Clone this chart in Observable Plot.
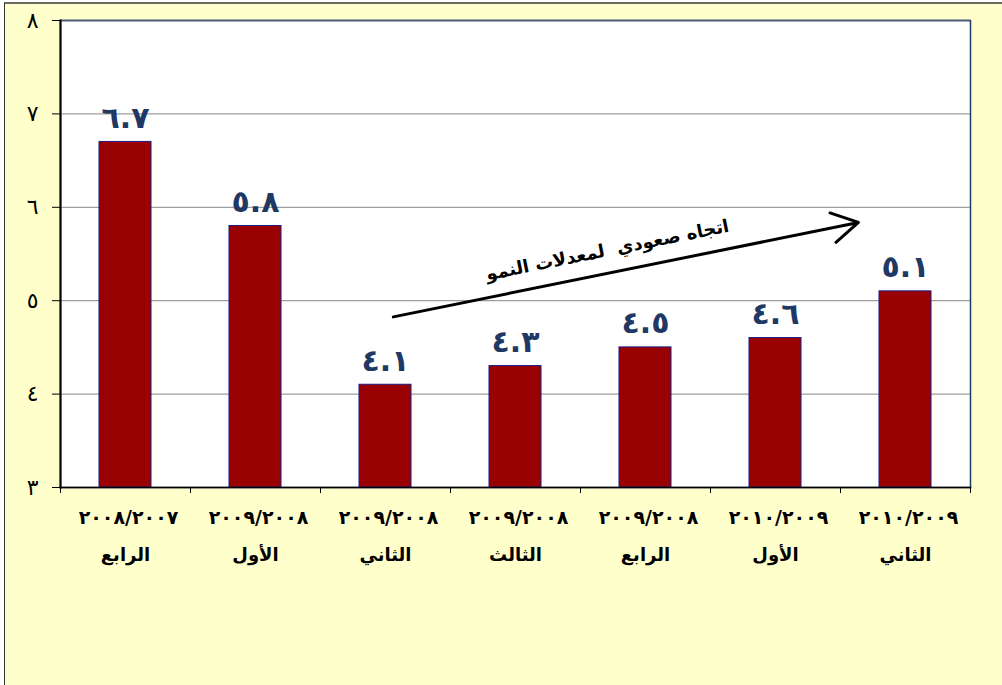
<!DOCTYPE html>
<html><head><meta charset="utf-8">
<script src="https://cdn.jsdelivr.net/npm/d3@7"></script>
<script src="https://cdn.jsdelivr.net/npm/@observablehq/plot@0.6"></script>
<style>
body{margin:0;background:#fff;}
#box{position:absolute;left:4px;top:2px;width:998px;height:683px;background:#FFFFCC;border-top:2px solid #6b6b5e;border-left:1px solid #333;box-sizing:border-box;}
#chart{position:absolute;left:-5px;top:-4px;}
</style></head><body><div id="box"><div id="chart"></div></div>
<script>
const years = ["٢٠٠٨/٢٠٠٧","٢٠٠٩/٢٠٠٨","٢٠٠٩/٢٠٠٨","٢٠٠٩/٢٠٠٨","٢٠٠٩/٢٠٠٨","٢٠١٠/٢٠٠٩","٢٠١٠/٢٠٠٩"];
const quarters = ["الرابع","الأول","الثاني","الثالث","الرابع","الأول","الثاني"];
const values = [6.7, 5.8, 4.1, 4.3, 4.5, 4.6, 5.1];
const yTicks = [3, 4, 5, 6, 7, 8];
const yTickLabels = ["٣","٤","٥","٦","٧","٨"];
const trendLabel = "اتجاه صعودي  لمعدلات النمو";
const trendStartValue = 4.81;
const trendEndValue = 5.94;
const trendLabelValue = 5.54;

const toArabic = s => String(s).replace(/[0-9]/g, d => "٠١٢٣٤٥٦٧٨٩"[+d]);
const keys = years.map((y, i) => y + " " + quarters[i]);
const data = values.map((v, i) => ({key: keys[i], year: years[i], quarter: quarters[i], value: v, label: toArabic(v.toFixed(1))}));

const W = 1002, H = 685, mL = 60, mR = 32, mT = 20, mB = 198;
const step = (W - mL - mR) / keys.length;
const plotH = H - mT - mB;
const font = "DejaVu Sans";

const svg = Plot.plot({
  width: W, height: H,
  marginLeft: mL, marginRight: mR, marginTop: mT, marginBottom: mB,
  style: {background: "transparent", fontFamily: font, overflow: "visible", color: "black"},
  x: {domain: keys, paddingInner: 0.6, paddingOuter: 0.3, axis: null},
  y: {domain: [3, 8], axis: null},
  marks: [
    Plot.frame({fill: "white", stroke: "#1f3864", strokeWidth: 1.5}),
    Plot.ruleY([4, 5, 6, 7], {stroke: "#868686", strokeWidth: 1}),
    Plot.ruleY([8], {stroke: "#4a5a78", strokeWidth: 1.5}),
    Plot.barY(data, {x: "key", y1: 3, y2: "value", fill: "#990000", stroke: "#1c1c8c", strokeWidth: 1}),
    Plot.text(data, {x: "key", y: "value", text: "label", dy: -14, lineAnchor: "bottom", fill: "#1f3864", fontSize: 30, fontWeight: "bold"}),
    Plot.axisY({ticks: yTicks, tickFormat: d => yTickLabels[yTicks.indexOf(d)], tickSize: 8, tickPadding: 14, fontSize: 22, stroke: "black"}),
    Plot.frame({anchor: "left", stroke: "black", strokeWidth: 2}),
    Plot.frame({anchor: "bottom", stroke: "black", strokeWidth: 1.5}),
    Plot.ruleX(keys, {x: d => d, dx: -step / 2, insetTop: plotH, insetBottom: -6, stroke: "black"}),
    Plot.ruleX([keys[keys.length - 1]], {x: d => d, dx: step / 2, insetTop: plotH, insetBottom: -6, stroke: "black"}),
    Plot.text(data, {x: "key", text: "year", frameAnchor: "bottom", dy: 36, dx: 3, fontSize: 19, fontWeight: "bold", fill: "black"}),
    Plot.text(data, {x: "key", text: "quarter", frameAnchor: "bottom", dy: 73, fontSize: 18, fontWeight: "bold", fill: "black"}),
    Plot.arrow([{x1: keys[2], y1: trendStartValue, x2: keys[6], y2: trendEndValue}], {
      x1: "x1", y1: "y1", x2: "x2", y2: "y2", stroke: "black", strokeWidth: 3,
      headLength: 15, insetStart: 8, insetEnd: 48, bend: 0
    }),
    Plot.text([trendLabel], {x: [keys[4]], y: [trendLabelValue], text: d => d, dx: -38, rotate: -11.4, fontSize: 18, fontWeight: "bold", fill: "black"})
  ]
});
d3.select(svg).selectAll("text").filter(function() { return years.includes(this.textContent); }).attr("letter-spacing", 6);
document.getElementById("chart").appendChild(svg);
</script></body></html>
